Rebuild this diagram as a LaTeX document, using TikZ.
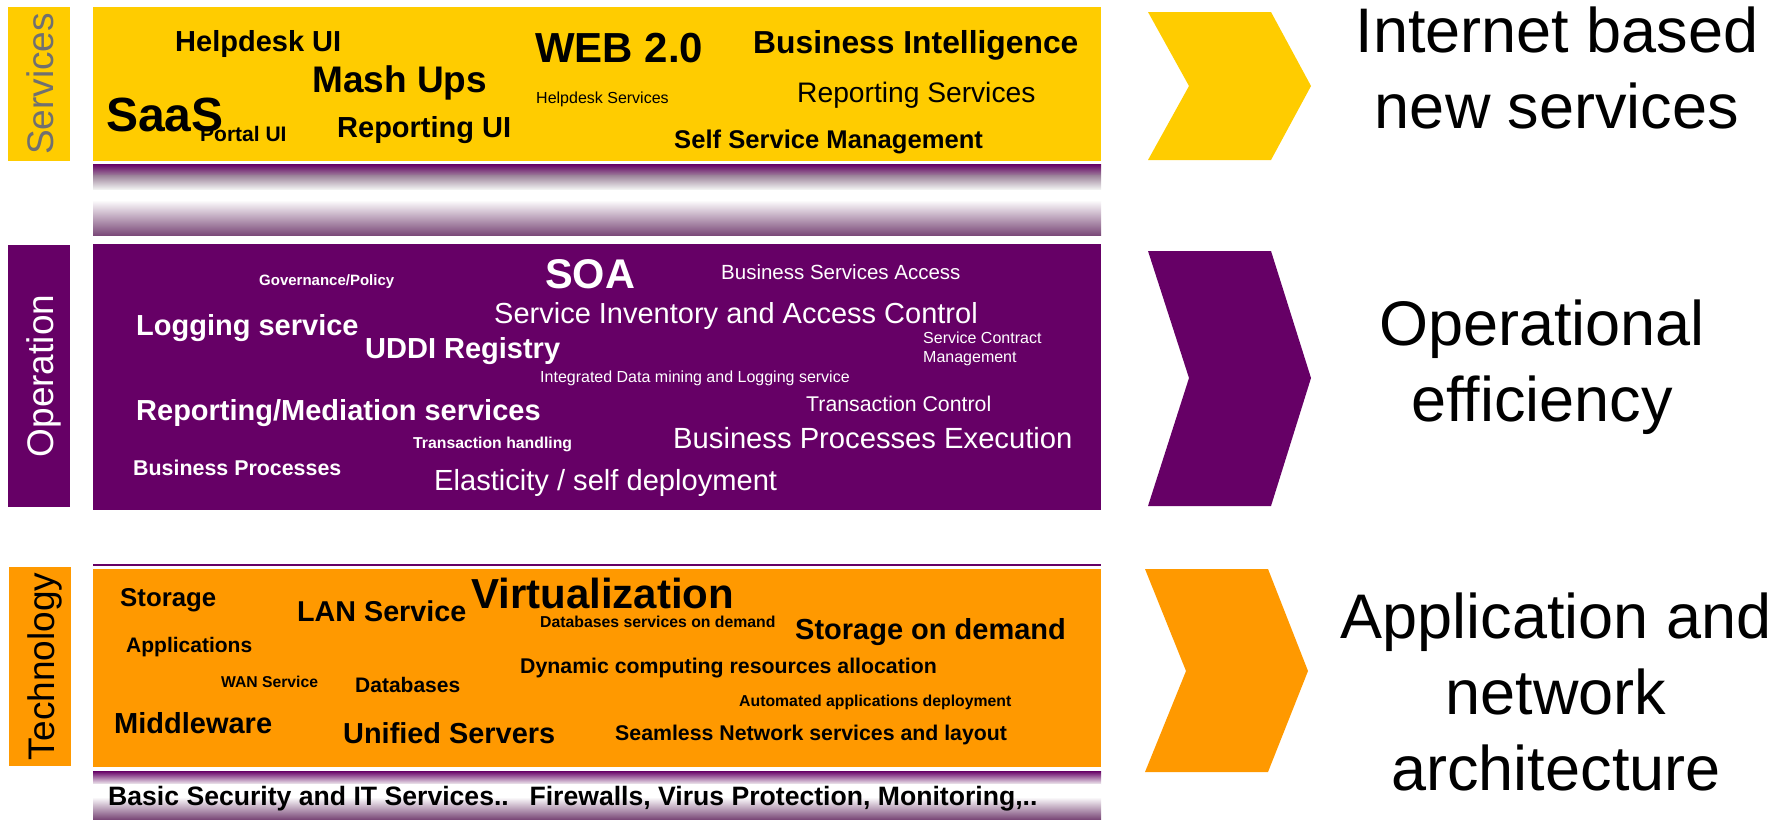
\documentclass[tikz,border=0pt]{standalone}
\usepackage{fontspec}
\setmainfont{Liberation Sans}
\definecolor{svcyellow}{HTML}{FFCC00}
\definecolor{oppurple}{HTML}{660066}
\definecolor{techorange}{HTML}{FF9900}
\definecolor{labelgray}{HTML}{707070}
\definecolor{bandpurple}{HTML}{7B4A79}
\definecolor{bandgray}{HTML}{9A8098}
\tikzset{
  side/.style={rotate=90, anchor=base, inner sep=0pt, font=\fontsize{37}{37}\selectfont},
  bt/.style={anchor=base west, inner sep=0pt, font=\fontsize{#1}{#1}\selectfont\bfseries},
  rt/.style={anchor=base west, inner sep=0pt, font=\fontsize{#1}{#1}\selectfont},
  goal/.style={anchor=base, align=center, inner sep=0pt, font=\fontsize{63}{76}\selectfont}
}
\begin{document}
\begin{tikzpicture}[x=1pt, y=-1pt]
  \useasboundingbox (0,0) rectangle (1787,819);

  % side labels
  \fill[svcyellow] (8,7) rectangle (70,161);
  \fill[oppurple] (8,245) rectangle (70,507);
  \fill[techorange] (9,567) rectangle (71,766);
  \node[side, text=labelgray] (lsvc) at (53,84) {Services};
  \node[side, text=white] (lop) at (53,376) {Operation};
  \node[side] (ltech) at (54,666.5) {Technology};

  % layer panels
  \fill[svcyellow] (93,7) rectangle (1101,161);
  \fill[oppurple] (93,244) rectangle (1101,510);
  \fill[techorange] (93,569) rectangle (1101,767);
  \draw[oppurple, line width=1.5pt] (93,565) -- (1101,565);

  % gradient bands
  \shade[top color=oppurple, bottom color=bandpurple!80] (93,164) rectangle (1101,174);
  \shade[top color=bandgray, bottom color=white!94!black] (93,175) rectangle (1101,189);
  \fill[white] (93,190) rectangle (1101,200);
  \shade[top color=white, bottom color=bandpurple] (93,200) rectangle (1101,235);
  \shade[top color=oppurple, bottom color=white!85!bandgray] (93,771) rectangle (1101,784);
  \fill[white] (93,784) rectangle (1101,797);
  \shade[top color=white, bottom color=bandpurple] (93,797) rectangle (1101,819);

  % services
  \node[bt=29] (helpui) at (175,51) {Helpdesk UI};
  \node[bt=37] (mash) at (312,92) {Mash Ups};
  \node[bt=48] (saas) at (106,131) {SaaS};
  \node[bt=21] (portal) at (200,141) {Portal UI};
  \node[bt=29] (repui) at (337,137) {Reporting UI};
  \node[bt=42] (web) at (535,62) {WEB 2.0};
  \node[rt=16] (helpsvc) at (536,103) {Helpdesk Services};
  \node[bt=31.8] (bi) at (753,53) {Business Intelligence};
  \node[rt=28.2] (repsvc) at (797,102) {Reporting Services};
  \node[bt=25.6] (selfsvc) at (674,148) {Self Service Management};

  % operation
  \begin{scope}[text=white]
    \node[bt=15] (gov) at (259,285) {Governance/Policy};
    \node[bt=41.5] (soa) at (545,288) {SOA};
    \node[rt=20.5] (bsa) at (721,279) {Business Services Access};
    \node[rt=29] (inv) at (494,323) {Service Inventory and Access Control};
    \node[bt=29] (logsvc) at (136,335) {Logging service};
    \node[bt=29] (uddi) at (365,358) {UDDI Registry};
    \node[rt=16, align=left, font=\fontsize{16}{19}\selectfont] (contract) at (923,362) {Service Contract\\Management};
    \node[rt=16] (mining) at (540,382) {Integrated Data mining and Logging service};
    \node[bt=29] (mediate) at (136,420) {Reporting/Mediation services};
    \node[rt=21.3] (tctrl) at (806,411) {Transaction Control};
    \node[bt=15.8] (thand) at (413,448) {Transaction handling};
    \node[rt=29.2] (bpe) at (673,448) {Business Processes Execution};
    \node[bt=21.4] (bp) at (133,475) {Business Processes};
    \node[rt=29.1] (elastic) at (434,490) {Elasticity / self deployment};
  \end{scope}

  % technology
  \node[bt=25.8] (storage) at (120,606) {Storage};
  \node[bt=28.7] (lan) at (297,621) {LAN Service};
  \node[bt=42] (virt) at (471,608) {Virtualization};
  \node[bt=15.8] (dbdemand) at (540,627) {Databases services on demand};
  \node[bt=29] (stdemand) at (795,639) {Storage on demand};
  \node[bt=21] (apps) at (126,652) {Applications};
  \node[bt=21.3] (dyn) at (520,673) {Dynamic computing resources allocation};
  \node[bt=15.7] (wan) at (221,687) {WAN Service};
  \node[bt=21] (db) at (355,692) {Databases};
  \node[bt=15.8] (autodep) at (739,706) {Automated applications deployment};
  \node[bt=29] (mw) at (114,733) {Middleware};
  \node[bt=28.9] (unified) at (343,743) {Unified Servers};
  \node[bt=21.3] (seamless) at (615,740) {Seamless Network services and layout};
  \node[bt=26.6] (basic) at (108,805) {Basic Security and IT Services..\enskip\ Firewalls, Virus Protection, Monitoring,..};

  % chevrons
  \fill[svcyellow] (1148,12) -- (1271,12) -- (1311,86) -- (1271,160) -- (1148,160) -- (1189,86) -- cycle;
  \fill[oppurple] (1148,251) -- (1271,251) -- (1311,378) -- (1271,506) -- (1148,506) -- (1189,378) -- cycle;
  \fill[techorange] (1145,569) -- (1268,569) -- (1308,671) -- (1268,772) -- (1145,772) -- (1186,671) -- cycle;

  % goals (base = last line)
  \node[goal] (gsvc) at (1557,128) {Internet based\\new services};
  \node[goal] (gop) at (1542,421) {Operational\\efficiency};
  \node[goal] (gtech) at (1556,790) {Application and\\network\\architecture};
\end{tikzpicture}
\end{document}
